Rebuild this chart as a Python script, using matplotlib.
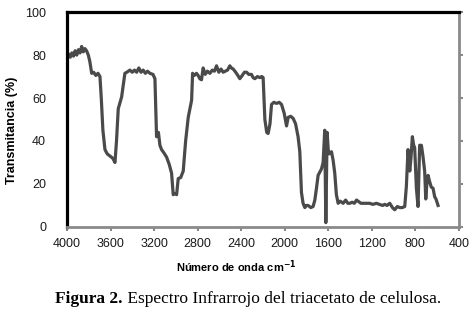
import numpy as np
import matplotlib.pyplot as plt

# IR spectrum
wavenumber = [4000, 3985, 3970, 3955, 3940, 3925, 3910, 3895, 3880, 3865,
              3850, 3835, 3820, 3804, 3790, 3773, 3755, 3735, 3715, 3697,
              3685, 3670, 3651, 3630, 3605, 3580, 3559, 3545, 3529, 3498,
              3468, 3450, 3422, 3400, 3380, 3360, 3340, 3320, 3300, 3280,
              3260, 3238, 3210, 3192, 3177, 3160, 3146, 3131, 3110, 3085,
              3060, 3039, 3024, 3008, 2993, 2978, 2955, 2932, 2910, 2886,
              2870, 2855, 2846, 2830, 2810, 2795, 2780, 2764, 2749, 2730,
              2710, 2687, 2665, 2645, 2626, 2605, 2585, 2565, 2545, 2525,
              2504, 2490, 2473, 2450, 2430, 2412, 2390, 2370, 2350, 2330,
              2305, 2290, 2274, 2250, 2228, 2210, 2198, 2182, 2165, 2152,
              2135, 2121, 2100, 2075, 2050, 2029, 2005, 1983, 1968, 1945,
              1922, 1900, 1877, 1861, 1846, 1831, 1815, 1800, 1785, 1760,
              1739, 1723, 1708, 1693, 1678, 1662, 1647, 1632, 1622, 1610,
              1600, 1592, 1570, 1555, 1540, 1525, 1509, 1490, 1463, 1440,
              1420, 1402, 1380, 1360, 1340, 1326, 1300, 1280, 1250, 1220,
              1190, 1157, 1130, 1100, 1081, 1060, 1035, 1010, 989, 965,
              943, 920, 897, 882, 867, 851, 840, 827, 815, 806,
              790, 775, 760, 744, 730, 714, 704, 694, 683, 668,
              653, 637, 622, 610, 601, 591]
transmitancia = [79, 80.5, 79, 81, 79.5, 82, 80, 82.5, 81, 84,
                 81.5, 83, 82, 80, 77, 71.5, 72, 70.5, 71.5, 70,
                 60, 45, 36, 34, 33, 32, 30, 40, 55, 60.5,
                 71.5, 72, 73, 72, 73, 72, 74, 72, 73, 71.5,
                 72.5, 71.5, 71, 69, 42, 44, 38, 36, 34.5, 32.5,
                 29, 25, 15, 15.5, 15, 22.5, 23, 26, 40, 51,
                 55, 59, 71.5, 70.5, 71.5, 70.5, 69, 68.5, 74, 71,
                 72.5, 71.5, 73, 72.5, 75, 72, 73.5, 72, 72.5, 73,
                 75, 74, 73.5, 72, 70.5, 69, 70.5, 72, 72, 71,
                 71, 69.5, 69, 70, 69.5, 70, 69.5, 50, 44, 43.5,
                 48, 57, 58, 57.5, 58, 57, 53, 47, 51, 51.5,
                 50.5, 48, 42, 35, 16, 11, 9, 10, 10, 9,
                 9.5, 12.5, 18, 24, 25.5, 27, 30, 45, 2, 44,
                 36, 34, 35, 31, 25, 15, 11, 12, 11, 12.5,
                 11, 11, 11.5, 11, 12.5, 12, 11, 11, 11, 11,
                 10.5, 11, 10.5, 10, 10.5, 10, 11, 9, 8, 9.5,
                 9, 9, 9.5, 19, 36, 26, 32, 42, 38, 37,
                 18, 9.5, 38, 38, 33, 26, 13, 20, 24, 21,
                 18.5, 18, 14, 13, 11.5, 10]

xticks = [4000, 3600, 3200, 2800, 2400, 2000, 1600, 1200, 800, 400]
yticks = [0, 20, 40, 60, 80, 100]

plt.rcParams['font.family'] = ['Liberation Sans', 'DejaVu Sans']

fig = plt.figure(figsize=(4.75, 3.1), dpi=100)
ax = fig.add_axes([0.141, 0.268, 0.825, 0.693])

ax.plot(wavenumber, transmitancia, color='#4a4a4a', linewidth=2.3,
        solid_joinstyle='round')

ax.set_xlim(4000, 400)
ax.set_ylim(0, 100)
ax.set_xticks(xticks)
ax.set_yticks(yticks)
ax.tick_params(axis='both', labelsize=9, colors='#888888',
               labelcolor='#1a1a1a', width=1.5, length=3)
ax.tick_params(axis='y', left=False, right=True, labelleft=True, pad=12)
ax.tick_params(axis='x', pad=5)

for side in ['left', 'top']:
    ax.spines[side].set_color('black')
    ax.spines[side].set_linewidth(2.3)
for side in ['right', 'bottom']:
    ax.spines[side].set_color('#8a8a8a')
    ax.spines[side].set_linewidth(2)

ax.set_ylabel('Transmitancia (%)', fontsize=9, fontweight='bold')
ax.yaxis.set_label_coords(-0.125, 0.45)
ax.set_xlabel(r'Número de onda cm$^{\mathbf{-1}}$', fontsize=8,
              fontweight='bold')
ax.xaxis.set_label_coords(0.431, -0.145)

# caption: bold part followed by the regular part
t1 = fig.text(0.116, 0.023, 'Figura 2.', fontsize=12.5, fontweight='bold',
              family='Liberation Serif', va='baseline')
ax.annotate(' Espectro Infrarrojo del triacetato de celulosa.',
            xy=(1, 0), xycoords=t1, va='bottom', ha='left',
            fontsize=12.5, family='Liberation Serif', annotation_clip=False)

fig.savefig('out.png', dpi=100)
